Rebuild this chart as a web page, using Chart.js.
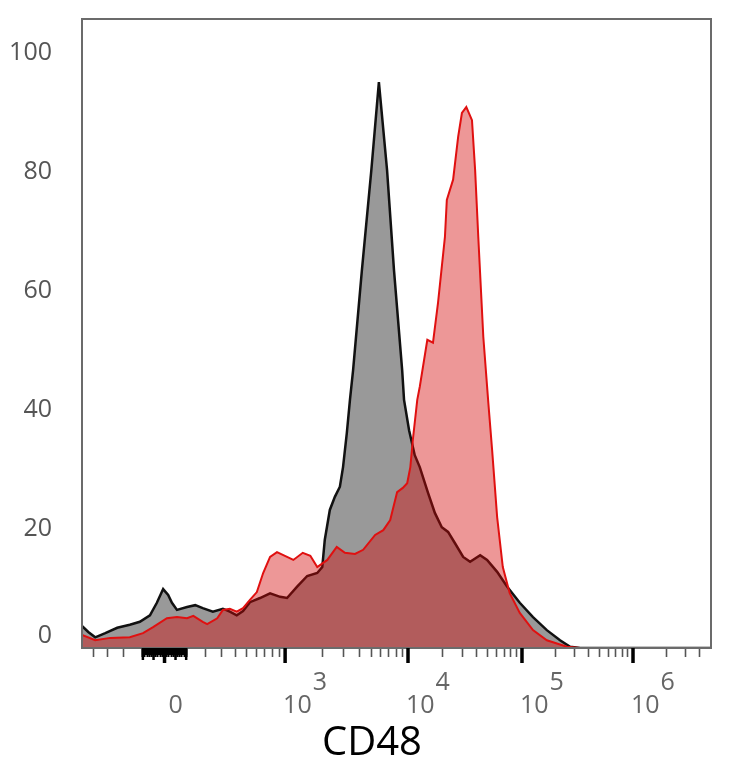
<!DOCTYPE html>
<html><head><meta charset="utf-8">
<script src="https://cdn.jsdelivr.net/npm/chart.js@4/dist/chart.umd.min.js"></script>
<style>html,body{margin:0;padding:0;background:#fff;}#wrap{width:734px;height:768px;position:relative;}</style>
</head><body><div id="wrap"><canvas id="c"></canvas></div>
<script>
// ---- data (x in display channels 0..1000 of the CD48 biexponential axis, y = % of max) ----
const grayChannels = [0,10,21,37,56,76,92,108,119,129,137,143,151,167,180,192,208,224,235,246,256,267,283,299,315,326,342,358,374,382,386,394,402,410,415,421,426,431,445,460,472,485,496,509,512,520,529,537,550,561,572,582,593,606,617,633,644,660,676,696,717,739,760,776,792,1000];
const grayCounts = [3.7,2.7,1.8,2.5,3.4,3.9,4.4,5.5,7.6,9.9,8.9,7.6,6.4,6.9,7.2,6.7,6.1,6.6,6.1,5.5,6.2,7.7,8.4,9.2,8.6,8.4,10.3,12.1,12.6,13.6,18.2,23.2,25.4,27.1,30.4,36.1,41.7,46.7,63.5,80.3,95.1,80.3,63.5,46.7,41.7,36.6,32.4,30.4,26.1,22.7,20.3,19.5,17.6,15.3,14.5,15.6,14.8,12.8,10.3,7.6,5.2,3.0,1.3,0.2,0,0];
const redChannels = [0,21,45,76,97,113,135,151,167,177,192,199,215,224,235,246,256,267,278,288,299,310,326,336,351,363,374,390,405,418,434,447,466,479,490,501,510,517,522,526,533,537,549,558,566,577,580,590,598,604,611,620,625,630,638,646,652,660,669,680,696,717,739,771,792,1000];
const redCounts = [2.2,1.3,1.7,1.8,2.5,3.5,5.0,5.2,5.0,5.4,4.4,4.0,5.0,6.4,6.6,6.1,6.7,8.1,9.4,12.6,15.3,16.1,15.3,14.8,16.0,15.5,13.6,14.8,17.0,16.0,15.8,16.5,19.0,19.8,21.5,26.2,26.9,27.7,30.4,35.0,41.7,43.9,51.8,51.3,58.0,69.1,75.3,78.7,85.9,89.9,90.9,88.7,80.3,69.1,52.3,41.2,33.3,22.0,13.6,9.2,5.9,3.0,1.3,0.2,0,0];

const yTickValues = [0,20,40,60,80,100];
const xMajorValues = [0,1e3,1e4,1e5,1e6];
const xMajorBases = ['0','10','10','10','10'];
const xMajorExps = ['','3','4','5','6'];
const xDenseValues = [-100,-90,-80,-70,-60,-50,-40,-30,-20,-10,10,20,30,40,50,60,70,80,90,100];
const xMinorValues = [-400,-300,-200,200,300,400,500,600,700,800,900,
  2e3,3e3,4e3,5e3,6e3,7e3,8e3,9e3,2e4,3e4,4e4,5e4,6e4,7e4,8e4,9e4,
  2e5,3e5,4e5,5e5,6e5,7e5,8e5,9e5,2e6,3e6,4e6];
const xTitle = 'CD48';

// ---- biexponential display transform (value -> channel) ----
const X_ZERO = 131.2, LIN_A = 94.9, LIN_C = 270;
const LOG_ANCHORS = [null, 518.3, 699.5, 876.0, 1052.5]; // channels of 1e3(filled below),1e4,1e5,1e6,1e7
function valueToChannel(v){
  const av = Math.abs(v);
  if (av <= 1000) return X_ZERO + Math.sign(v) * LIN_A * Math.asinh(av / LIN_C);
  const anchors = LOG_ANCHORS.slice(); anchors[0] = valueToChannel(1000);
  const e = Math.log10(av); const k = Math.min(Math.floor(e), 6); const i = k - 3;
  return anchors[i] + (anchors[i+1] - anchors[i]) * (e - k);
}

const xTicks = [];
xDenseValues.forEach(v => xTicks.push({value: valueToChannel(v), kind: 'dense'}));
xMinorValues.forEach(v => xTicks.push({value: valueToChannel(v), kind: 'minor'}));
xTicks.sort((a,b) => a.value - b.value);

const FONT = '"Open Sans", "Noto Sans", sans-serif';

const decor = {
  id: 'decor',
  afterDraw(chart){
    const {ctx, chartArea: a, scales: {x, y}} = chart;
    ctx.save();
    ctx.strokeStyle = '#6b6b6b'; ctx.lineWidth = 2;
    ctx.strokeRect(a.left, a.top, a.right - a.left, a.bottom - a.top);
    // solid block of the dense linear-region ticks
    const bl = x.getPixelForValue(valueToChannel(-100)), br = x.getPixelForValue(valueToChannel(100));
    ctx.fillStyle = '#000';
    ctx.fillRect(bl - 1, a.bottom, br - bl + 2, 7);
    // major ticks
    ctx.strokeStyle = '#000'; ctx.lineWidth = 3.5;
    xMajorValues.forEach(v => {
      const px = x.getPixelForValue(valueToChannel(v));
      ctx.beginPath(); ctx.moveTo(px, a.bottom); ctx.lineTo(px, a.bottom + 15); ctx.stroke();
    });
    ctx.lineWidth = 2.5;
    [-100, -50, 50, 100].forEach(v => {
      const px = x.getPixelForValue(valueToChannel(v));
      ctx.beginPath(); ctx.moveTo(px, a.bottom); ctx.lineTo(px, a.bottom + 12); ctx.stroke();
    });
    // x labels with superscripts
    ctx.fillStyle = '#666'; ctx.font = '25px ' + FONT; ctx.textBaseline = 'alphabetic'; ctx.textAlign = 'left';
    xMajorValues.forEach((v, i) => {
      const px = x.getPixelForValue(valueToChannel(v));
      if (xMajorExps[i] === '') {
        ctx.fillText(xMajorBases[i], px + 4, 713);
      } else {
        const left = px - 2;
        ctx.fillText(xMajorBases[i], left, 713);
        const w = ctx.measureText(xMajorBases[i]).width;
        ctx.fillText(xMajorExps[i], left + w + 1, 690);
      }
    });
    // y zero label (shifted up like the original)
    ctx.fillStyle = '#555'; ctx.textAlign = 'right'; ctx.textBaseline = 'middle';
    ctx.fillText('0', a.left - 30, y.getPixelForValue(0) - 12);
    // axis title
    ctx.fillStyle = '#000'; ctx.font = '40px ' + FONT; ctx.textAlign = 'center'; ctx.textBaseline = 'alphabetic';
    ctx.fillText(xTitle, 372, 755);
    ctx.restore();
  }
};

new Chart(document.getElementById('c'), {
  type: 'line',
  data: {
    datasets: [
      {
        label: 'CD48 stained',
        data: redChannels.map((c, i) => ({x: c, y: redCounts[i]})),
        borderColor: '#e01010', borderWidth: 2,
        backgroundColor: 'rgba(212,8,8,0.42)',
        fill: 'origin', pointRadius: 0, tension: 0
      },
      {
        label: 'Isotype control',
        data: grayChannels.map((c, i) => ({x: c, y: grayCounts[i]})),
        borderColor: '#111', borderWidth: 2.5,
        backgroundColor: '#999999',
        fill: 'origin', pointRadius: 0, tension: 0
      }
    ]
  },
  options: {
    responsive: true, maintainAspectRatio: false, animation: false,
    layout: {padding: {top: 19, right: 23, left: 0, bottom: 0}},
    plugins: {legend: {display: false}, tooltip: {enabled: false}, title: {display: false}},
    scales: {
      x: {
        type: 'linear', min: 0, max: 1000,
        afterBuildTicks: s => { s.ticks = xTicks.map(t => ({value: t.value, kind: t.kind})); },
        afterFit: s => { s.height = 120; s.paddingLeft = 0; s.paddingRight = 0; s.paddingTop = 0; s.paddingBottom = 0; },
        border: {display: false},
        grid: {
          display: true, drawOnChartArea: false, drawTicks: true, tickLength: 9,
          tickColor: c => (c.tick && c.tick.kind === 'dense') ? '#000' : '#555',
          tickWidth: c => (c.tick && c.tick.kind === 'dense') ? 2 : 1.6
        },
        ticks: {display: true, autoSkip: false, maxRotation: 0, callback: () => '', font: {size: 1}}
      },
      y: {
        type: 'linear', min: 0, max: 105.7,
        afterBuildTicks: s => { s.ticks = yTickValues.map(v => ({value: v})); },
        afterFit: s => { s.width = 82; s.paddingLeft = 0; s.paddingRight = 0; s.paddingTop = 0; s.paddingBottom = 0; },
        border: {display: false},
        grid: {display: false, drawTicks: false},
        ticks: {
          padding: 30, color: '#555', font: {family: FONT, size: 25},
          callback: v => v === 0 ? '' : String(v)
        }
      }
    }
  },
  plugins: [decor]
});
</script>
</body></html>
